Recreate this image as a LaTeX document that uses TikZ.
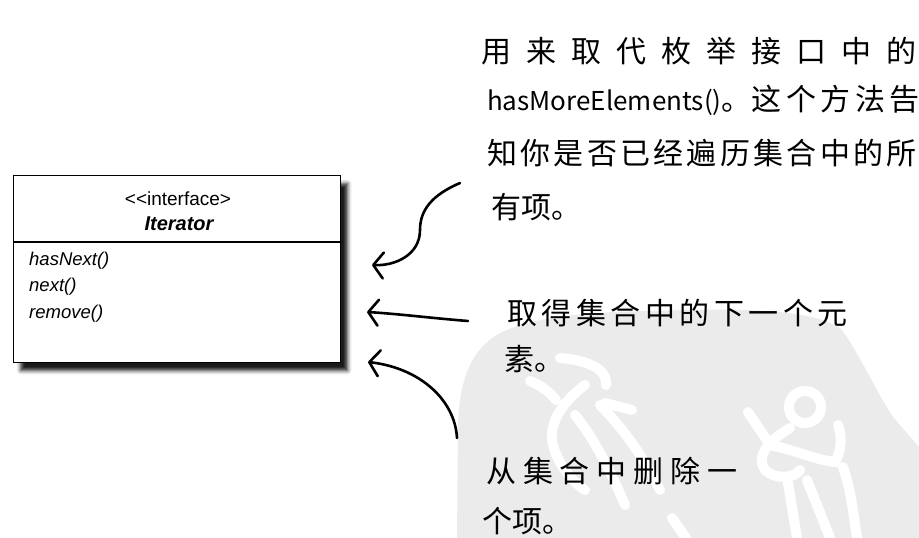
\documentclass[tikz,border=0pt]{standalone}
\usepackage{fontspec}
\setmainfont{Liberation Sans}
\newfontfamily\cjk{Noto Sans CJK SC}
\usetikzlibrary{arrows.meta,calc,shadows.blur}
\tikzset{
  classbox/.style={draw,line width=1.2pt,fill=white,inner sep=0pt,
    blur shadow={shadow xshift=7pt,shadow yshift=-8pt,shadow blur radius=4pt,shadow opacity=90}},
  stereo/.style ={font=\fontsize{19}{22}\selectfont,anchor=base,inner sep=0pt},
  cname/.style  ={font=\fontsize{20}{22}\selectfont\bfseries\itshape,anchor=base,inner sep=0pt},
  meth/.style   ={font=\fontsize{18.5}{22}\selectfont\itshape,anchor=base west,inner sep=0pt},
  note/.style   ={font=\cjk\fontsize{30}{32}\selectfont,anchor=base west,inner sep=0pt},
  hand/.style   ={-{Straight Barb[length=10pt,width=26pt,round]},line width=2.6pt,line cap=round},
  seal/.style   ={draw=white,line width=10pt,line cap=round},
}
\newcommand{\ls}[1]{\addfontfeatures{LetterSpace=#1}}

\begin{document}
\begin{tikzpicture}[x=1pt,y=-1pt]
  \useasboundingbox (0,0) rectangle (919,538);
  % BACKGROUND: grey seal, lower right
  \fill[black!8] (457,538) -- (458,423) .. controls (460,380) and (470,350) .. (500,333)
    .. controls (530,318) and (580,312) .. (650,311)
    .. controls (720,309) and (805,306) .. (840,328)
    .. controls (855,345) and (875,390) .. (893,417) -- (919,447) -- (919,538) -- cycle;
  \draw[seal] (560,358) .. controls (585,360) and (608,368) .. (606,385);
  \draw[seal] (530,381) .. controls (540,385) and (550,392) .. (556,400);
  \draw[seal] (585,385) .. controls (565,400) and (550,420) .. (552,440)
    .. controls (555,460) and (570,480) .. (585,490);
  \draw[seal] (575,415) .. controls (595,440) and (610,470) .. (625,505);
  \draw[seal] (600,405) .. controls (625,430) and (645,460) .. (660,490);
  \draw[seal] (605,403) -- (632,410);
  \draw[seal] (672,518) -- (686,538);
  \draw[seal] (805,407) circle (16);
  \draw[seal] (748,412) -- (770,445);
  \draw[seal] (790,428) .. controls (770,440) and (755,455) .. (765,470)
    .. controls (775,480) and (795,478) .. (800,470);
  \draw[seal] (768,445) .. controls (790,448) and (815,460) .. (835,462)
    .. controls (842,450) and (842,435) .. (838,425);
  \draw[seal] (787,477) -- (797,538);
  \draw[seal] (807,480) .. controls (815,500) .. (830,538);
  \draw[seal] (843,467) .. controls (850,490) .. (857,538);

  % LEFT: the interface box
  \node[classbox,anchor=north west,minimum width=327pt,minimum height=187pt] (iter) at (13,175) {};
  \draw[line width=1.2pt] ($(iter.north west)+(0,67)$) -- ($(iter.north east)+(0,67)$);
  \node[stereo] (stereo) at (178,205) {<\kern0pt<interface>};
  \node[cname] (cname) at (179,230) {Iterator};
  \foreach \m [count=\k] in {hasNext(),next(),remove()}
    \node[meth] (m\k) at (29,{238.5+26.5*\k}) {\m};

  % RIGHT: handwritten notes
  \node[note] (use1) at (481,62)  {\ls{50}用来取代枚举接口中的\kern-15pt};
  \node[note] (use2) at (487,110) {{\fontsize{26}{30}\selectfont hasMoreElements()}。{\ls{15}这个方法告}\kern-5pt};
  \node[note] (use3) at (487,164) {\ls{11}知你是否已经遍历集合中的所\kern-3pt};
  \node[note] (use4) at (491,218) {有项。};
  \node[note] (nxt1) at (507,324) {\ls{15}取得集合中的下一个元};
  \node[note] (nxt2) at (504,370) {素。};
  \node[note] (rem1) at (486,482) {\ls{23}从集合中删除一};
  \node[note] (rem2) at (482,532) {个项。};

  % arrows from the notes to the methods
  \coordinate (hasTail) at (460,183);
  \coordinate (hasTip)  at (372,265);
  \coordinate (nxtTail) at (468,321);
  \coordinate (nxtTip)  at (367,312);
  \coordinate (remTail) at (457,438);
  \coordinate (remTip)  at (368,362);
  \draw[hand] (hasTail) .. controls (432,195) and (420,210) .. (420,230)
    .. controls (420,255) and (395,266) .. (hasTip);
  \draw[hand] (nxtTail) .. controls (430,318) and (400,314) .. (nxtTip);
  \draw[hand] (remTail) .. controls (455,400) and (420,368) .. (remTip);
\end{tikzpicture}
\end{document}
